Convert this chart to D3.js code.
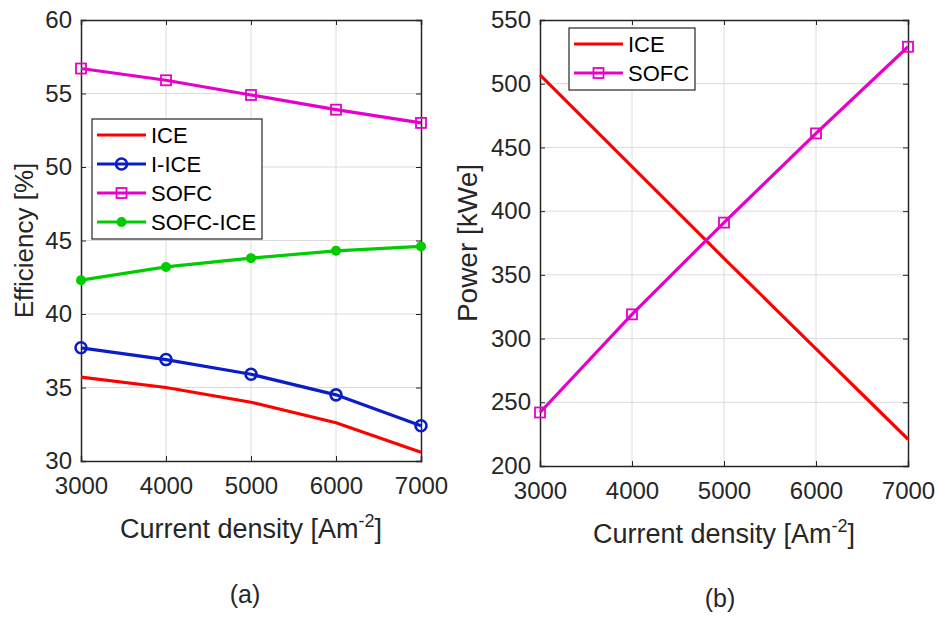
<!DOCTYPE html>
<html>
<head>
<meta charset="utf-8">
<script src="https://cdn.jsdelivr.net/npm/d3@7"></script>
<style>
  body { margin: 0; background: #fff; }
  svg { font-family: Arial, "Liberation Sans", sans-serif; }
</style>
</head>
<body>
<div id="chart"></div>
<script>
// data
const currentDensity = [3000, 4000, 5000, 6000, 7000];
const effICE = [35.7, 35.0, 34.0, 32.6, 30.6];
const effIICE = [37.7, 36.9, 35.9, 34.5, 32.4];
const effSOFC = [56.7, 55.9, 54.9, 53.9, 53.0];
const effSOFCICE = [42.3, 43.2, 43.8, 44.3, 44.6];
const powerICE = [507, 435, 363, 292, 221];
const powerSOFC = [242, 319, 391, 461, 529];

const xTicks = [3000, 4000, 5000, 6000, 7000];
const effTicks = [30, 35, 40, 45, 50, 55, 60];
const powerTicks = [200, 250, 300, 350, 400, 450, 500, 550];

const width = 938, height = 617;
const axisColor = "#262626";
const gridColor = "#dcdcdc";

const svg = d3.select("#chart").append("svg")
  .attr("width", width)
  .attr("height", height);

function drawPanel(opt) {
  const x = d3.scaleLinear().domain([3000, 7000]).range([opt.left, opt.right]);
  const y = d3.scaleLinear().domain(opt.yDomain).range([opt.bottom, opt.top]);
  const g = svg.append("g");

  // grid
  g.selectAll("line.vgrid").data(xTicks.slice(1, -1)).join("line")
    .attr("x1", d => x(d)).attr("x2", d => x(d))
    .attr("y1", opt.top).attr("y2", opt.bottom)
    .attr("stroke", gridColor).attr("stroke-width", 1);
  g.selectAll("line.hgrid").data(opt.yTicks.slice(1, -1)).join("line")
    .attr("y1", d => y(d)).attr("y2", d => y(d))
    .attr("x1", opt.left).attr("x2", opt.right)
    .attr("stroke", gridColor).attr("stroke-width", 1);

  // axes with inward ticks
  const xAxis = g.append("g")
    .attr("transform", `translate(0,${opt.bottom})`)
    .call(d3.axisBottom(x).tickValues(xTicks).tickSize(-5).tickPadding(16).tickFormat(d3.format("d")));
  const yAxis = g.append("g")
    .attr("transform", `translate(${opt.left},0)`)
    .call(d3.axisLeft(y).tickValues(opt.yTicks).tickSize(-5).tickPadding(9).tickFormat(d3.format("d")));
  g.append("g")
    .attr("transform", `translate(0,${opt.top})`)
    .call(d3.axisTop(x).tickValues(xTicks).tickSize(-5).tickFormat(""));
  g.append("g")
    .attr("transform", `translate(${opt.right},0)`)
    .call(d3.axisRight(y).tickValues(opt.yTicks).tickSize(-5).tickFormat(""));

  g.selectAll(".domain").attr("stroke", axisColor).attr("stroke-width", 1.5);
  g.selectAll(".tick line").attr("stroke", axisColor);
  xAxis.selectAll("text").attr("font-size", 24).attr("fill", axisColor)
    .attr("font-family", "Arial, 'Liberation Sans', sans-serif");
  xAxis.selectAll(".tick text").attr("dy", "0.71em");
  yAxis.selectAll("text").attr("font-size", 24).attr("fill", axisColor)
    .attr("font-family", "Arial, 'Liberation Sans', sans-serif");

  // axis labels
  const xl = svg.append("text")
    .attr("x", (opt.left + opt.right) / 2)
    .attr("y", opt.bottom + 77)
    .attr("text-anchor", "middle")
    .attr("font-size", 27)
    .attr("fill", axisColor);
  xl.append("tspan").text("Current density [Am");
  xl.append("tspan").attr("dy", -11).attr("font-size", 18).text("-2");
  xl.append("tspan").attr("dy", 11).text("]");

  svg.append("text")
    .attr("transform", `translate(${opt.yLabelX},${(opt.top + opt.bottom) / 2}) rotate(-90)`)
    .attr("text-anchor", "middle")
    .attr("font-size", opt.yLabelSize)
    .attr("fill", axisColor)
    .text(opt.yLabel);

  svg.append("text")
    .attr("x", opt.capX).attr("y", opt.capY)
    .attr("text-anchor", "middle")
    .attr("font-size", 25)
    .attr("fill", axisColor)
    .text(opt.caption);

  // series
  const line = d3.line().x((d, i) => x(currentDensity[i])).y(d => y(d));
  opt.series.forEach(s => {
    g.append("path")
      .datum(s.values)
      .attr("fill", "none")
      .attr("stroke", s.color)
      .attr("stroke-width", 3.2)
      .attr("d", line);
    drawMarkers(g, s, s.values.map((v, i) => [x(currentDensity[i]), y(v)]));
  });

  // legend
  const lg = svg.append("g").attr("transform", `translate(${opt.legend.x},${opt.legend.y})`);
  const rowH = 29;
  lg.append("rect")
    .attr("width", opt.legend.w)
    .attr("height", opt.series.length * rowH + 4)
    .attr("fill", "#fff")
    .attr("stroke", axisColor)
    .attr("stroke-width", 1.2);
  opt.series.forEach((s, i) => {
    const cy = 16 + i * rowH;
    lg.append("line")
      .attr("x1", 5).attr("x2", 54)
      .attr("y1", cy).attr("y2", cy)
      .attr("stroke", s.color).attr("stroke-width", 3.2);
    drawMarkers(lg, s, [[29.5, cy]]);
    lg.append("text")
      .attr("x", 59).attr("y", cy)
      .attr("dy", "0.36em")
      .attr("font-size", 22)
      .attr("fill", "#000")
      .text(s.name);
  });
}

function drawMarkers(g, s, pts) {
  if (s.marker === "circle") {
    g.selectAll(null).data(pts).join("circle")
      .attr("cx", d => d[0]).attr("cy", d => d[1]).attr("r", 5.5)
      .attr("fill", "none").attr("stroke", s.color).attr("stroke-width", 2.6);
  } else if (s.marker === "dot") {
    g.selectAll(null).data(pts).join("circle")
      .attr("cx", d => d[0]).attr("cy", d => d[1]).attr("r", 5)
      .attr("fill", s.color);
  } else if (s.marker === "square") {
    g.selectAll(null).data(pts).join("rect")
      .attr("x", d => d[0] - 5).attr("y", d => d[1] - 5)
      .attr("width", 10).attr("height", 10)
      .attr("fill", "none").attr("stroke", s.color).attr("stroke-width", 1.8);
  }
}

const RED = "#ff0000", BLUE = "#0a1ec8", MAGENTA = "#e600c8", GREEN = "#00cc00";

drawPanel({
  left: 81, right: 421, top: 20, bottom: 461,
  yDomain: [30, 60], yTicks: effTicks,
  yLabel: "Efficiency [%]", yLabelX: 33, yLabelSize: 26,
  caption: "(a)", capX: 245, capY: 603,
  legend: { x: 92, y: 119, w: 170 },
  series: [
    { name: "ICE", values: effICE, color: RED, marker: "none" },
    { name: "I-ICE", values: effIICE, color: BLUE, marker: "circle" },
    { name: "SOFC", values: effSOFC, color: MAGENTA, marker: "square" },
    { name: "SOFC-ICE", values: effSOFCICE, color: GREEN, marker: "dot" }
  ]
});

drawPanel({
  left: 540, right: 908, top: 20, bottom: 466,
  yDomain: [200, 550], yTicks: powerTicks,
  yLabel: "Power [kWe]", yLabelX: 477, yLabelSize: 28,
  caption: "(b)", capX: 720, capY: 607,
  legend: { x: 569, y: 28, w: 126 },
  series: [
    { name: "ICE", values: powerICE, color: RED, marker: "none" },
    { name: "SOFC", values: powerSOFC, color: MAGENTA, marker: "square" }
  ]
});
</script>
</body>
</html>
